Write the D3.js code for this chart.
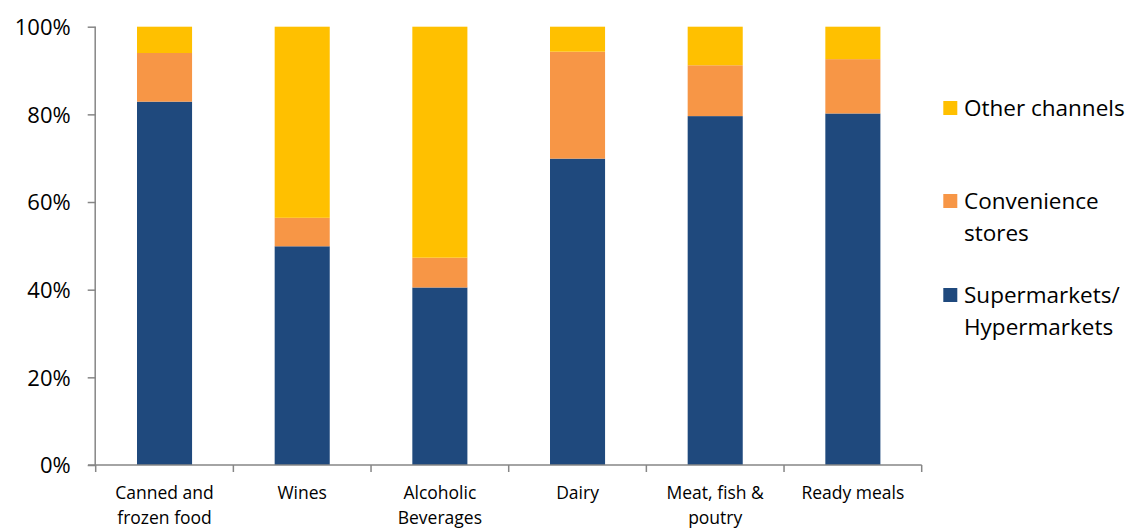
<!DOCTYPE html>
<html><head><meta charset="utf-8">
<script src="https://cdn.jsdelivr.net/npm/d3@7"></script>
<style>body{margin:0;background:#fff}svg{display:block}text{font-family:"Open Sans",Lato,sans-serif;fill:#000}</style>
</head><body><svg id="c" width="1130" height="528"></svg>
<script>
const categories = [["Canned and","frozen food"],["Wines"],["Alcoholic","Beverages"],["Dairy"],["Meat, fish &","poutry"],["Ready meals"]];
const supermarkets = [82.9, 49.9, 40.5, 69.9, 79.6, 80.2];
const convenience = [11.1, 6.5, 6.8, 24.4, 11.6, 12.4];
const other = [6.0, 43.6, 52.7, 5.7, 8.8, 7.4];
const seriesNames = ["Supermarkets/Hypermarkets","Convenience stores","Other channels"];
const colors = ["#1F497D","#F79646","#FFC000"];
const yTicks = [0,20,40,60,80,100];

const svg = d3.select("#c");
const keys = categories.map((c,i)=>i);
const x = d3.scaleBand().domain(keys).range([95.7,921.7]).paddingInner(0.6).paddingOuter(0.3);
const y = d3.scaleLinear().domain([0,100]).range([465,26.7]);

const table = keys.map(i=>({i, s0:supermarkets[i], s1:convenience[i], s2:other[i]}));
const stack = d3.stack().keys(["s0","s1","s2"])(table);

svg.append("g").selectAll("g").data(stack).join("g")
  .attr("fill",(d,k)=>colors[k])
  .selectAll("rect").data(d=>d).join("rect")
  .attr("x",d=>x(d.data.i)).attr("width",x.bandwidth())
  .attr("y",d=>y(Math.min(100,d[1]))).attr("height",d=>y(d[0])-y(Math.min(100,d[1])));

// y axis
const ya = svg.append("g").attr("transform","translate(95.7,0)")
  .call(d3.axisLeft(y).tickValues(yTicks).tickFormat(d=>d+"%").tickSize(8).tickPadding(17));
ya.select(".domain").attr("stroke","#868686").attr("d","M-0.5,465V26.7").attr("stroke-width",1.5);
ya.selectAll(".tick line").attr("stroke","#868686").attr("stroke-width",1.5);
ya.selectAll(".tick text").style("font-size","22px").attr("dy","0.35em");

// x axis
const xb = d3.scaleLinear().domain([0,6]).range([95.7,921.7]);
const xa = svg.append("g").attr("transform","translate(0,465)");
xa.append("line").attr("x1",88).attr("x2",921.7).attr("stroke","#868686").attr("stroke-width",1.5);
xa.selectAll("line.t").data(d3.range(7)).join("line").attr("class","t")
  .attr("x1",d=>xb(d)).attr("x2",d=>xb(d)).attr("y1",0).attr("y2",7)
  .attr("stroke","#868686").attr("stroke-width",1.5);
const xl = svg.append("g").selectAll("text").data(keys).join("text")
  .attr("text-anchor","middle").attr("x",i=>x(i)+x.bandwidth()/2).attr("y",499)
  .style("font-size","17.5px");
xl.each(function(i){
  const t=d3.select(this);
  categories[i].forEach((line,j)=>t.append("tspan").attr("x",x(i)+x.bandwidth()/2).attr("dy",j?24.5:0).text(line));
});

// legend
const legend = [
  {k:2, lines:["Other channels"], y:108},
  {k:1, lines:["Convenience","stores"], y:201},
  {k:0, lines:["Supermarkets/","Hypermarkets"], y:295}
];
const lg = svg.append("g").selectAll("g").data(legend).join("g");
lg.append("rect").attr("x",943.3).attr("y",d=>d.y-7).attr("width",14).attr("height",14).attr("fill",d=>colors[d.k]);
lg.append("text").attr("x",964).attr("y",d=>d.y).style("font-size","22.5px")
  .each(function(d){
    const t=d3.select(this);
    d.lines.forEach((l,j)=>t.append("tspan").attr("x",964).attr("dy",j?32.5:"0.35em").text(l));
  });
</script></body></html>
